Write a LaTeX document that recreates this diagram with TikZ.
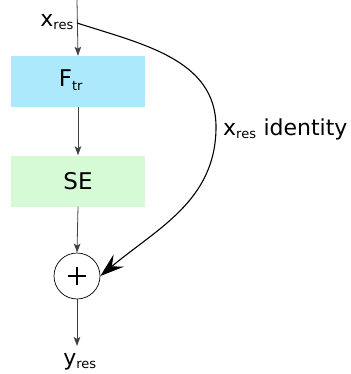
\documentclass[tikz,border=0pt]{standalone}
\usepackage{fontspec}
\setmainfont{DejaVu Sans}
\usetikzlibrary{arrows.meta}
\tikzset{
  blockbox/.style={minimum width=134pt, minimum height=51pt, inner sep=0pt, draw=none, font=\fontsize{23}{26}\selectfont},
  flow/.style={draw=black!75, line width=0.8pt, -{Stealth[length=9pt,width=6.5pt,inset=2pt]}},
  lbl/.style={font=\fontsize{22}{26}\selectfont, inner sep=1pt},
}
\newcommand{\sbs}[1]{\textsubscript{\fontsize{13}{14}\selectfont #1}}
\definecolor{ftrfill}{RGB}{172,233,252}
\definecolor{sefill}{RGB}{214,250,214}
\begin{document}
\begin{tikzpicture}[x=1pt,y=-1pt]
\useasboundingbox (0,0) rectangle (350,374);
\coordinate (in) at (77,0);
\coordinate (split) at (77,23);
\node[blockbox, fill=ftrfill] (ftr) at (78,81.5) {};
\node[lbl, font=\fontsize{23}{26}\selectfont] (ftrtext) at (71,80) {F\sbs{tr}};
\node[blockbox, fill=sefill] (se) at (78,181) {SE};
\node[circle, draw, line width=0.7pt, minimum size=46pt, inner sep=0pt] (sum) at (77,276) {};
\draw[line width=1.2pt] (sum.center) ++(-9,0) -- ++(18,0);
\draw[line width=1.2pt] (sum.center) ++(0,-9) -- ++(0,18);
\coordinate (out) at (77,346);
\node[lbl, anchor=east] (xin) at (75,22) {x\sbs{res}};
\node[lbl] (yout) at (80,362) {y\sbs{res}};
\coordinate (bend) at (216,127);
\node[lbl, anchor=west] (idl) at (222,129) {x\sbs{res} identity};
\draw[flow] (in) -- (ftr.north);
\draw[flow] (ftr.south) -- (se.north);
\draw[flow] (se.south) -- (sum.north);
\draw[flow] (sum.south) -- (out);
\draw[line width=1.1pt, -{Stealth[length=24pt,width=16pt,inset=9pt]}]
  (split) to[out=-18,in=90] (bend) to[out=-90,in=40] (sum.east);
\end{tikzpicture}
\end{document}
